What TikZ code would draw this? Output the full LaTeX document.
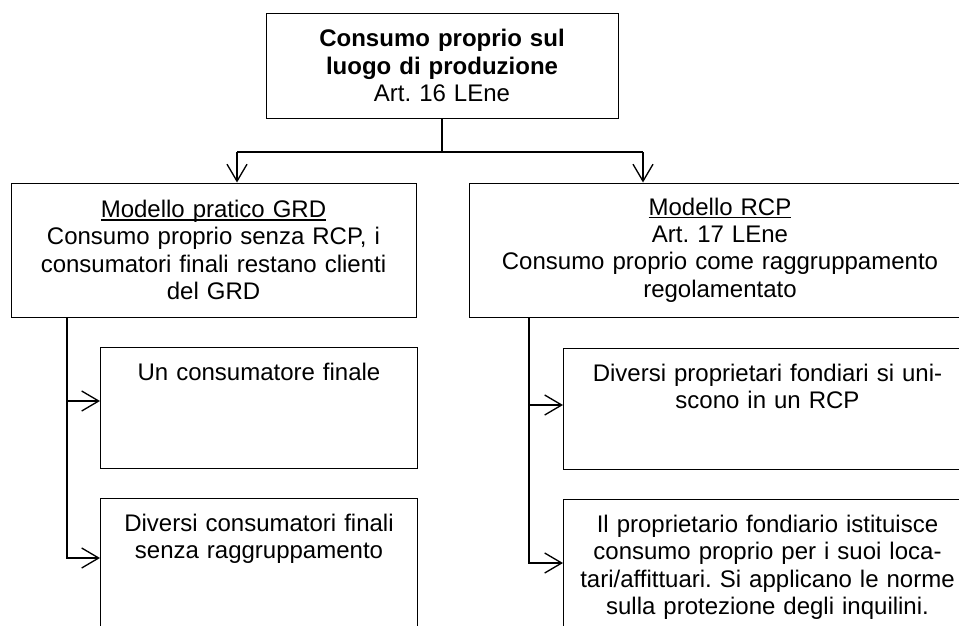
\documentclass[tikz,border=0pt]{standalone}
\usepackage{fontspec}
\setmainfont{Liberation Sans}
\usetikzlibrary{arrows.meta, positioning}
\frenchspacing

\newcommand{\ulname}[1]{\leavevmode\sbox0{#1}\rlap{\rule[-2.4pt]{\wd0}{0.9pt}}\usebox0}

\tikzset{
    mainbox/.style = {draw, line width=0.75pt, inner sep=0pt, align=center,
                      minimum height=100.5pt},
    subbox/.style  = {draw, line width=0.75pt, inner sep=0pt, anchor=north west},
    subtext/.style = {anchor=north, inner xsep=0pt, inner ysep=11.8pt, align=center},
    link/.style    = {line width=1pt},
    arr/.style     = {-{Straight Barb[length=12.75pt, width=15pt]}},
}

\begin{document}
\begin{tikzpicture} [x=0.75pt, y=-0.75pt, font={\fontsize{18pt}{20.6pt}\selectfont}]
    \path [use as bounding box, fill=white] (0,0) rectangle (959,625);
    \clip (0,0) rectangle (959,625);

    % top level
    \node (top)
        [mainbox, text width=264pt, minimum height=78.75pt]
        at (442,65.5)
        {{\bfseries Consumo proprio sul\\ luogo di produzione}\\ Art. 16 LEne};

    % the two models
    \node (grd)
        [mainbox, text width=303.75pt]
        at (213.5,250)
        {\ulname{Modello pratico GRD}\\ Consumo proprio senza RCP, i\\
         consumatori finali restano clienti\\ del GRD};
    \node (rcp)
        [mainbox, text width=376.5pt]
        at (720,250)
        {\ulname{Modello RCP}\\ Art. 17 LEne\\
         Consumo proprio come raggruppamento\\ regolamentato};

    % cases
    \node (one)
        [subbox, minimum width=237.75pt, minimum height=90.75pt,
         label={[subtext, text width=237.75pt]north:{Un consumatore finale}}]
        at (100,347) {};
    \node (two)
        [subbox, minimum width=237.75pt, minimum height=112.5pt,
         label={[subtext, text width=237.75pt]north:{Diversi consumatori finali\\ senza raggruppamento}}]
        at (100,498) {};
    \node (three)
        [subbox, minimum width=306pt, minimum height=90.75pt,
         label={[subtext, text width=306pt]north:{Diversi proprietari fondiari si uni-\\ scono in un RCP}}]
        at (563,348) {};
    \node (four)
        [subbox, minimum width=306pt, minimum height=112.5pt,
         label={[subtext, text width=306pt]north:{Il proprietario fondiario istituisce\\
                 consumo proprio per i suoi loca-\\ tari/affittuari. Si applicano le norme\\
                 sulla protezione degli inquilini.}}]
        at (563,499) {};

    \coordinate (aL) at (237,152);
    \coordinate (aR) at (643,152);
    \coordinate (tL) at (67,0);
    \coordinate (tR) at (529,0);
    \coordinate (inL) at ([yshift=-40.5pt]one.north west);
    \coordinate (inR) at ([yshift=-42.75pt]three.north west);

    \draw [link] (top.south) -- (top.south |- aL);
    \draw [link] (aL) -- (aR);
    \draw [link, arr] (aL) -- (aL |- grd.north);
    \draw [link, arr] (aR) -- (aR |- rcp.north);

    \draw [link, arr] (grd.south -| tL) |- ([yshift=-45pt]two.north west);
    \draw [link, arr] (tL |- inL) -- (inL);
    \draw [link, arr] (rcp.south -| tR) |- ([yshift=-48pt]four.north west);
    \draw [link, arr] (tR |- inR) -- (inR);
\end{tikzpicture}
\end{document}
